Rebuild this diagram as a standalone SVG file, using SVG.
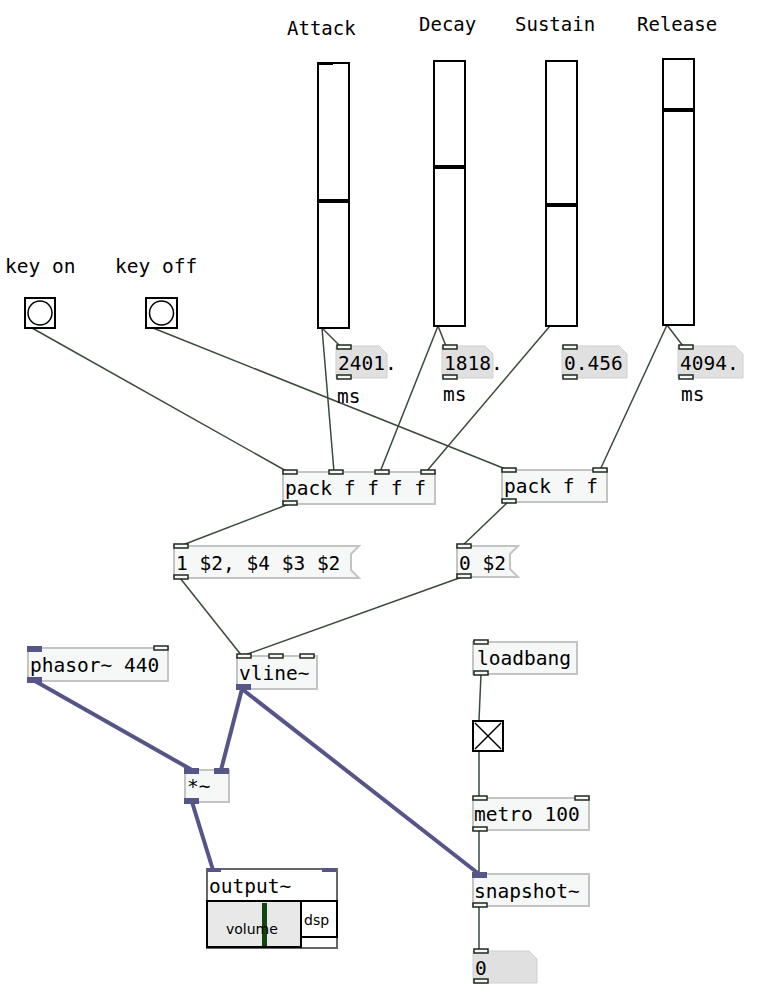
<svg xmlns="http://www.w3.org/2000/svg" width="764" height="1000" viewBox="0 0 764 1000">
<style>
text{font-family:"DejaVu Sans Mono",monospace;font-size:19.5px;fill:#000}
.lbl{font-family:"DejaVu Sans Mono",monospace;font-size:19px}
.sm{font-family:"DejaVu Sans",sans-serif;font-size:14px}
.box{fill:#f6f8f8;stroke:#c4c4c4;stroke-width:2}
.num{fill:#e0e0e0;stroke:#cfcfcf;stroke-width:1}
.io{fill:#f6f8f8;stroke:#1e2a1e;stroke-width:1.5}
.sio{fill:#555588}
.sl{fill:#fff;stroke:#000;stroke-width:2}
.c{stroke:#3a4a3a;stroke-width:1.5;fill:none}
.s{stroke:#555588;stroke-width:4;fill:none}
</style>
<g id="connectors">
<line class="c" x1="32" y1="328" x2="288" y2="472"/>
<line class="c" x1="153" y1="328" x2="508" y2="470"/>
<line class="c" x1="322" y1="328" x2="340" y2="346"/>
<line class="c" x1="322" y1="328" x2="334" y2="472"/>
<line class="c" x1="438" y1="326" x2="446" y2="346"/>
<line class="c" x1="438" y1="326" x2="380" y2="472"/>
<line class="c" x1="550" y1="326" x2="426" y2="472"/>
<line class="c" x1="667" y1="325" x2="683" y2="346"/>
<line class="c" x1="667" y1="325" x2="600" y2="470"/>
<line class="c" x1="289" y1="504" x2="180" y2="546"/>
<line class="c" x1="508" y1="502" x2="462" y2="546"/>
<line class="c" x1="180" y1="578" x2="242" y2="656"/>
<line class="c" x1="462" y1="577" x2="242" y2="656"/>
<line class="c" x1="481" y1="674" x2="479" y2="720"/>
<line class="c" x1="479" y1="751" x2="479" y2="797"/>
<line class="c" x1="479" y1="830" x2="479" y2="873"/>
<line class="c" x1="479" y1="906" x2="479" y2="950"/>
<line class="s" x1="35" y1="681" x2="192" y2="770"/>
<line class="s" x1="242" y1="689" x2="221" y2="770"/>
<line class="s" x1="242" y1="689" x2="479" y2="874"/>
<line class="s" x1="192" y1="802" x2="213" y2="870"/>
</g>
<g id="attack"><text class="lbl" x="287" y="35">Attack</text><rect class="sl" x="318" y="63" width="31" height="265"/><line x1="319" y1="201" x2="348" y2="201" stroke="#000" stroke-width="4"/><line x1="319" y1="64" x2="333" y2="64" stroke="#000" stroke-width="2"/></g>
<g id="decay"><text class="lbl" x="419" y="31">Decay</text><rect class="sl" x="434" y="61" width="31" height="265"/><line x1="435" y1="167" x2="464" y2="167" stroke="#000" stroke-width="4"/></g>
<g id="sustain"><text class="lbl" x="515" y="31">Sustain</text><rect class="sl" x="546" y="61" width="31" height="265"/><line x1="547" y1="205" x2="576" y2="205" stroke="#000" stroke-width="4"/></g>
<g id="release"><text class="lbl" x="637" y="31">Release</text><rect class="sl" x="663" y="59" width="31" height="266"/><line x1="664" y1="110" x2="693" y2="110" stroke="#000" stroke-width="4"/></g>
<g id="n1"><path class="num" d="M336 346h43l8 8v24h-51z"/><rect class="io" x="337" y="345" width="14" height="4"/><rect class="io" x="337" y="375" width="14" height="4"/><text x="338" y="370">2401.</text><text x="337" y="403">ms</text></g>
<g id="n2"><path class="num" d="M442 346h43l8 8v24h-51z"/><rect class="io" x="443" y="345" width="14" height="4"/><rect class="io" x="443" y="375" width="14" height="4"/><text x="444" y="370">1818.</text><text x="443" y="401">ms</text></g>
<g id="n3"><path class="num" d="M562 346h57l8 8v24h-65z"/><rect class="io" x="563" y="345" width="14" height="4"/><rect class="io" x="563" y="375" width="14" height="4"/><text x="564" y="370">0.456</text></g>
<g id="n4"><path class="num" d="M678 346h57l8 8v24h-65z"/><rect class="io" x="679" y="345" width="14" height="4"/><rect class="io" x="679" y="375" width="14" height="4"/><text x="680" y="370">4094.</text><text x="681" y="401">ms</text></g>
<g id="keyon"><text x="5" y="273">key on</text><rect x="25" y="298" width="30" height="30" fill="#fff" stroke="#000" stroke-width="2"/><circle cx="40" cy="313" r="12" fill="#fff" stroke="#000" stroke-width="1.5"/></g>
<g id="keyoff"><text x="115" y="273">key off</text><rect x="146" y="298" width="31" height="30" fill="#fff" stroke="#000" stroke-width="2"/><circle cx="161.5" cy="313" r="12" fill="#fff" stroke="#000" stroke-width="1.5"/></g>
<g id="pack4"><rect class="box" x="283" y="472" width="152" height="32"/><rect class="io" x="283" y="470" width="14" height="4"/><rect class="io" x="329" y="470" width="14" height="4"/><rect class="io" x="375" y="470" width="14" height="4"/><rect class="io" x="421" y="470" width="14" height="4"/><rect class="io" x="283" y="501" width="14" height="4"/><text x="285" y="495">pack f f f f</text></g>
<g id="pack2"><rect class="box" x="502" y="470" width="105" height="32"/><rect class="io" x="502" y="468" width="14" height="4"/><rect class="io" x="593" y="468" width="14" height="4"/><rect class="io" x="502" y="499" width="14" height="4"/><text x="504" y="493">pack f f</text></g>
<g id="msg1"><path class="box" d="M174 546h185l-8 8v16l8 8h-185z"/><rect class="io" x="174" y="544" width="14" height="4"/><rect class="io" x="174" y="575" width="14" height="4"/><text x="176" y="570">1 $2, $4 $3 $2</text></g>
<g id="msg2"><path class="box" d="M457 546h61l-8 8v15l8 8h-61z"/><rect class="io" x="457" y="544" width="14" height="4"/><rect class="io" x="457" y="574" width="14" height="4"/><text x="459" y="570">0 $2</text></g>
<g id="vline"><rect class="box" x="237" y="656" width="80" height="33"/><rect class="io" x="237" y="654" width="14" height="4"/><rect class="io" x="269" y="654" width="14" height="4"/><rect class="io" x="300" y="654" width="14" height="4"/><rect class="sio" x="236" y="684" width="15" height="6"/><text x="239" y="680">vline~</text></g>
<g id="phasor"><rect class="box" x="28" y="648" width="140" height="33"/><rect class="sio" x="27" y="646" width="15" height="6"/><rect class="io" x="154" y="646" width="14" height="4"/><rect class="sio" x="27" y="677" width="15" height="6"/><text x="30" y="672">phasor~ 440</text></g>
<g id="mul"><rect class="box" x="185" y="770" width="44" height="32"/><rect class="sio" x="184" y="768" width="15" height="6"/><rect class="sio" x="214" y="768" width="15" height="6"/><rect class="sio" x="184" y="798" width="15" height="6"/><text x="187" y="793">*~</text></g>
<g id="output"><rect x="207" y="869" width="130" height="79" fill="#fff" stroke="#666" stroke-width="2"/><rect class="sio" x="207" y="868" width="14" height="4"/><rect class="sio" x="322" y="868" width="14" height="4"/><text x="209" y="893">output~</text><rect x="207" y="901" width="94" height="46" fill="#e8e8e8" stroke="#000" stroke-width="2"/><rect x="301" y="901" width="36" height="36" fill="#fff" stroke="#000" stroke-width="2"/><rect x="262" y="903" width="5" height="43" fill="#114411"/><text class="sm" x="226" y="934">volume</text><text class="sm" x="304" y="925">dsp</text></g>
<g id="loadbang"><rect class="box" x="473" y="642" width="104" height="32"/><rect class="io" x="474" y="640" width="14" height="4"/><rect class="io" x="474" y="671" width="14" height="4"/><text x="477" y="665">loadbang</text></g>
<g id="toggle"><rect x="473" y="721" width="30" height="30" fill="#fff" stroke="#000" stroke-width="2"/><path d="M475 723l26 26M501 723l-26 26" stroke="#000" stroke-width="1.5"/></g>
<g id="metro"><rect class="box" x="473" y="798" width="116" height="32"/><rect class="io" x="473" y="796" width="14" height="4"/><rect class="io" x="575" y="796" width="14" height="4"/><rect class="io" x="473" y="827" width="14" height="4"/><text x="474" y="821">metro 100</text></g>
<g id="snapshot"><rect class="box" x="473" y="874" width="116" height="32"/><rect class="sio" x="472" y="872" width="15" height="6"/><rect class="io" x="473" y="903" width="14" height="4"/><text x="474" y="898">snapshot~</text></g>
<g id="n5"><path class="num" d="M473 951h56l8 8v24h-64z"/><rect class="io" x="474" y="949" width="14" height="4"/><rect class="io" x="474" y="979" width="14" height="4"/><text x="475" y="975">0</text></g>
</svg>
